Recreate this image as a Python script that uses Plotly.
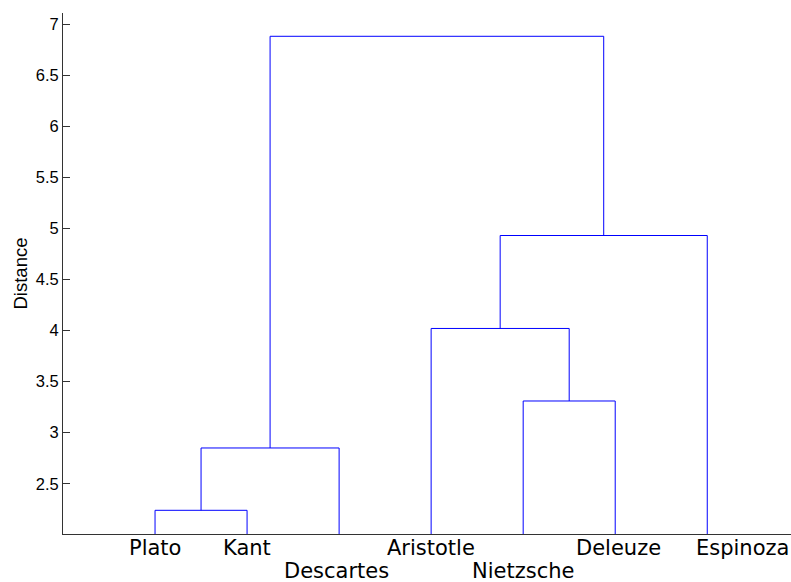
import plotly.graph_objects as go

# Leaves in dendrogram order
leaves = ["Plato", "Kant", "Descartes", "Aristotle", "Nietzsche", "Deleuze", "Espinoza"]
# label row: 0 = upper, 1 = lower (staggered to avoid overlap)
label_row = [0, 0, 1, 0, 1, 0, 0]
# horizontal nudges of labels (pixels) to avoid overlap
label_nudge = [0, 0, -3, 0, 0, 3, 35]

# Linkage: (left child, right child, distance); nodes 0..6 are leaves, new nodes 7..
links = [
    (0, 1, 2.24),   # Plato + Kant -> 7
    (7, 2, 2.85),   # + Descartes -> 8
    (4, 5, 3.31),   # Nietzsche + Deleuze -> 9
    (3, 9, 4.02),   # Aristotle + (9) -> 10
    (10, 6, 4.93),  # + Espinoza -> 11
    (8, 11, 6.88),  # root
]

yticks = [2.5, 3, 3.5, 4, 4.5, 5, 5.5, 6, 6.5, 7]
ytick_text = ["2.5", "3", "3.5", "4", "4.5", "5", "5.5", "6", "6.5", "7"]
y_range = [2.008, 7.108]
x_range = [0, 7.91]

# positions and heights of nodes
xpos = {i: i + 1 for i in range(len(leaves))}
hgt = {i: 0.0 for i in range(len(leaves))}

fig = go.Figure()
nid = len(leaves)
for a, b, d in links:
    xs = [xpos[a], xpos[a], xpos[b], xpos[b]]
    ys = [hgt[a], d, d, hgt[b]]
    fig.add_trace(go.Scatter(x=xs, y=ys, mode="lines",
                             line=dict(color="#0000ff", width=1),
                             showlegend=False, hoverinfo="skip", cliponaxis=True))
    xpos[nid] = (xpos[a] + xpos[b]) / 2
    hgt[nid] = d
    nid += 1

for i, name in enumerate(leaves):
    fig.add_annotation(x=i + 1, y=y_range[0], xref="x", yref="y", text=name,
                       showarrow=False, xanchor="center", yanchor="middle",
                       xshift=label_nudge[i],
                       yshift=-14 - 23 * label_row[i],
                       font=dict(family="DejaVu Sans", size=21, color="#000000"))

fig.add_annotation(x=0, y=0.5, xref="paper", yref="paper", text="Distance",
                   showarrow=False, textangle=-90, xanchor="center", yanchor="middle",
                   xshift=-43,
                   font=dict(family="Liberation Sans, Arial", size=18.5, color="#000000"))

fig.update_layout(
    width=791, height=582,
    margin=dict(l=63, r=0, t=13, b=48),
    paper_bgcolor="white", plot_bgcolor="white",
    xaxis=dict(range=x_range, showgrid=False, zeroline=False, showticklabels=False,
               ticks="", showline=True, linecolor="#333333", linewidth=1, fixedrange=True),
    yaxis=dict(range=y_range, tickvals=yticks, ticktext=ytick_text, showgrid=False,
               zeroline=False, ticks="inside", ticklen=7, tickcolor="#333333",
               showline=True, linecolor="#333333", linewidth=1,
               tickfont=dict(family="Liberation Sans, Arial", size=16.5, color="#000000"),
               fixedrange=True),
)

fig.write_html(
    "out.html",
    config={"displayModeBar": False},
    post_script="document.body.style.margin='0';document.body.style.overflow='hidden';",
)
